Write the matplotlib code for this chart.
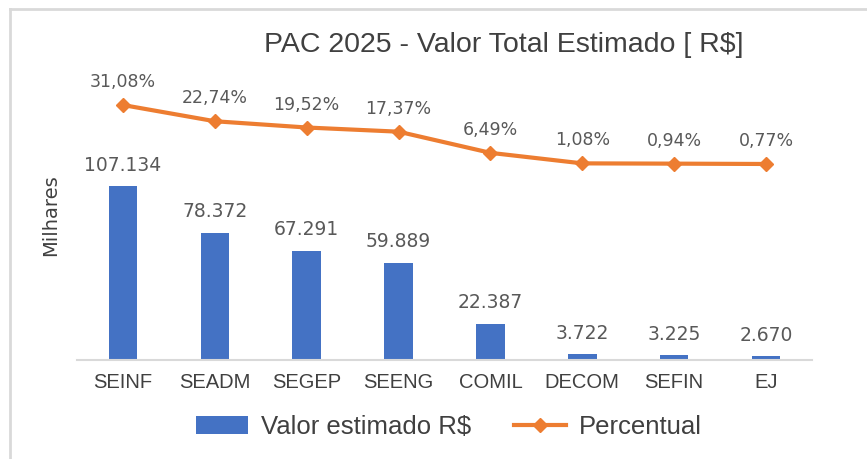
import matplotlib.pyplot as plt
from matplotlib.lines import Line2D

# Data
setores = ['SEINF', 'SEADM', 'SEGEP', 'SEENG', 'COMIL', 'DECOM', 'SEFIN', 'EJ']
valores = [107134, 78372, 67291, 59889, 22387, 3722, 3225, 2670]
percentual = [31.08, 22.74, 19.52, 17.37, 6.49, 1.08, 0.94, 0.77]

valor_labels = ['107.134', '78.372', '67.291', '59.889', '22.387', '3.722', '3.225', '2.670']
perc_labels = ['31,08%', '22,74%', '19,52%', '17,37%', '6,49%', '1,08%', '0,94%', '0,77%']

narrow = 'Liberation Sans'

W, H = 867, 459
fig = plt.figure(figsize=(W / 100, H / 100), dpi=100)

# frame of the chart area
fig.add_artist(Line2D([10 / W, 1], [1 - 9 / H, 1 - 9 / H], color='#d9d9d9', lw=2))
fig.add_artist(Line2D([10 / W, 10 / W], [0, 1 - 9 / H], color='#d9d9d9', lw=2))

ax = fig.add_axes([77 / W, (H - 360) / H, (812 - 77) / W, 270 / H])
x = range(len(setores))
bars = ax.bar(x, valores, width=0.31, color='#4472c4', label='Valor estimado R$')
ax.set_ylim(0, 166000)
ax.set_xlim(-0.5, len(setores) - 0.5)
for s in ['top', 'right', 'left']:
    ax.spines[s].set_visible(False)
ax.spines['bottom'].set_color('#d9d9d9')
ax.spines['bottom'].set_linewidth(1.5)
ax.set_yticks([])
ax.set_xticks(list(x))
ax.set_xticklabels(setores, fontsize=14.5, color='#404040', family=narrow)
ax.tick_params(axis='x', length=0, pad=9)
ax.set_ylabel('Milhares', fontsize=14, color='#404040')
ax.yaxis.set_label_coords((60 - 77) / (812 - 77), (360 - 215) / 270)

for i, v in enumerate(valores):
    ax.annotate(valor_labels[i], (i, v), xytext=(0, 8), textcoords='offset points',
                ha='center', va='bottom', fontsize=13.5, color='#595959')

ax2 = ax.twinx()
ax2.plot(list(x), percentual, color='#ed7d31', lw=3, marker='D', markersize=7,
         label='Percentual')
ax2.set_ylim(-100, 38.8)
ax2.axis('off')
for i, p in enumerate(percentual):
    ax2.annotate(perc_labels[i], (i, p), xytext=(0, 10), textcoords='offset points',
                 ha='center', va='bottom', fontsize=12.5, color='#595959')

fig.text(504 / W, 1 - 45 / H, 'PAC 2025 - Valor Total Estimado [ R$]', ha='center',
         va='center', fontsize=20.5, color='#404040', family=narrow)

handles = [bars, ax2.get_lines()[0]]
fig.legend(handles, ['Valor estimado R$', 'Percentual'], loc='center',
           bbox_to_anchor=(449 / W, 1 - 427 / H), ncol=2, frameon=False,
           prop={'family': narrow, 'size': 18.5}, handlelength=2.0, handletextpad=0.5,
           columnspacing=1.7, labelcolor='#404040')

fig.savefig('out.png', dpi=100)
